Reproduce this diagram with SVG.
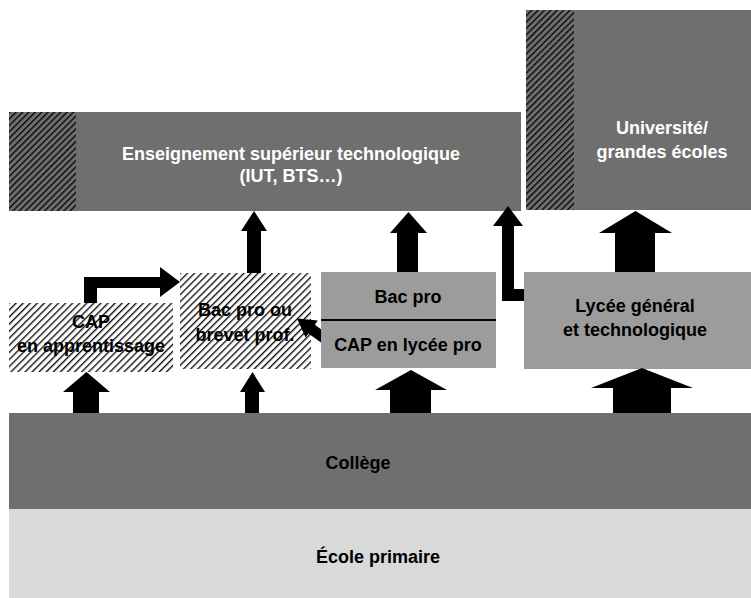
<svg xmlns="http://www.w3.org/2000/svg" width="751" height="598" viewBox="0 0 751 598">
<defs>
<pattern id="hatchDark" patternUnits="userSpaceOnUse" width="4.5" height="4.5" patternTransform="rotate(45)">
<rect width="4.5" height="4.5" fill="#6f6f6f"/>
<line x1="0.7" y1="0" x2="0.7" y2="4.5" stroke="#000" stroke-width="1.3"/>
</pattern>
<pattern id="hatchLight" patternUnits="userSpaceOnUse" width="5" height="5" patternTransform="rotate(45)">
<rect width="5" height="5" fill="#fff"/>
<line x1="0.7" y1="0" x2="0.7" y2="5" stroke="#000" stroke-width="1.3"/>
</pattern>
</defs>
<style>
text{font-family:"Liberation Sans",Arial,sans-serif;font-weight:bold;font-size:18px;text-anchor:middle}
.w{fill:#fff}
.k{fill:#000}
.dark{fill:#6f6f6f}
.mid{fill:#9c9c9c}
.light{fill:#d9d9d9}
.arrow{fill:#000}
</style>
<rect width="751" height="598" fill="#fff"/>

<g id="ecole">
<rect class="light" x="9" y="509" width="742" height="89"/>
<text class="k" x="378" y="563">École primaire</text>
</g>
<g id="college">
<rect class="dark" x="9" y="413" width="742" height="96"/>
<text class="k" x="358" y="469">Collège</text>
</g>
<g id="enseignement">
<rect class="dark" x="9" y="112" width="512" height="99"/>
<rect x="9" y="112" width="67" height="99" fill="url(#hatchDark)"/>
<text class="w" x="291" y="160">Enseignement supérieur technologique</text>
<text class="w" x="291" y="182">(IUT, BTS…)</text>
</g>
<g id="universite">
<rect class="dark" x="526" y="10" width="225" height="200"/>
<rect x="526" y="10" width="48" height="200" fill="url(#hatchDark)"/>
<text class="w" x="662" y="134">Université/</text>
<text class="w" x="662" y="158">grandes écoles</text>
</g>
<g id="cap-apprentissage">
<rect x="9" y="303" width="164" height="69" fill="url(#hatchLight)"/>
<text class="k" x="91" y="328">CAP</text>
<text class="k" x="91" y="352">en apprentissage</text>
</g>
<g id="bac-pro-brevet">
<rect x="180" y="273" width="131" height="96" fill="url(#hatchLight)"/>
<text class="k" x="245" y="316">Bac pro ou</text>
<text class="k" x="245" y="341">brevet prof.</text>
</g>
<g id="lycee-pro">
<rect class="mid" x="321" y="272" width="175" height="96"/>
<line x1="321" y1="320" x2="496" y2="320" stroke="#000" stroke-width="2"/>
<text class="k" x="408" y="303">Bac pro</text>
<text class="k" x="408" y="351">CAP en lycée pro</text>
</g>
<g id="lycee-general">
<rect class="mid" x="524" y="272" width="227" height="97"/>
<text class="k" x="635" y="312">Lycée général</text>
<text class="k" x="635" y="336">et technologique</text>
</g>

<g id="connectors">
<polygon class="arrow" points="86.5,372 110,392 99,392 99,413 73,413 73,392 63,392"/>
<polygon class="arrow" points="252.5,372 265,392 259,392 259,413 245,413 245,392 240,392"/>
<polygon class="arrow" points="411,370 447,390 431,390 431,413 390,413 390,390 375,390"/>
<polygon class="arrow" points="642,368 693,388 671,388 671,413 613,413 613,388 591,388"/>
<polygon class="arrow" points="254,211 267,231 261,231 261,273 247,273 247,231 241,231"/>
<polygon class="arrow" points="408.5,212 427,233 418,233 418,272 397,272 397,233 390,233"/>
<polygon class="arrow" points="635.5,211 672,233 655,233 655,272 615,272 615,233 599,233"/>
<polygon class="arrow" points="508,206 523,226 514,226 514,289 524,289 524,301 502,301 502,226 493,226"/>
<polygon class="arrow" points="84,303 84,277 160,277 160,267 180,282 160,297 160,288 97,288 97,303"/>
<polygon class="arrow" points="297,318.5 317.75,320.4 314.85,324.76 321,329.15 321,342.4 308.45,333.44 305.55,337.5"/>
</g>
</svg>
